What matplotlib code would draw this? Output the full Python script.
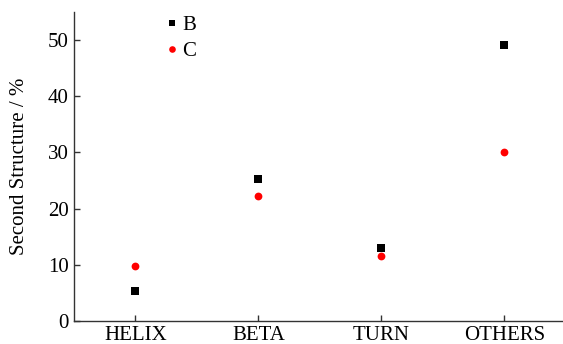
import matplotlib
matplotlib.use('Agg')
import matplotlib.pyplot as plt

categories = ['HELIX', 'BETA', 'TURN', 'OTHERS']
b_values = [5.3, 25.2, 12.9, 49.1]
c_values = [9.7, 22.3, 11.5, 30.0]

plt.rcParams['font.family'] = ['Liberation Serif', 'DejaVu Serif']

fig = plt.figure(figsize=(5.63, 3.44), dpi=100)
ax = fig.add_axes([0.1314, 0.067, 0.869, 0.898])

x = range(len(categories))
ax.plot(x, b_values, 's', color='black', markersize=5.2, markeredgewidth=0, label='B')
ax.plot(x, c_values, 'o', color='red', markersize=5.6, markeredgewidth=0, label='C')

ax.set_xlim(-0.5, 3.48)
ax.set_ylim(0, 55)
ax.set_xticks(list(x))
ax.set_xticklabels(categories)
ax.set_yticks([0, 10, 20, 30, 40, 50])
ax.set_ylabel('Second Structure / %', fontsize=15, labelpad=13)
ax.tick_params(labelsize=15, direction='in', length=4.5, width=1, colors='#333333',
               labelcolor='black', pad=4)
ax.tick_params(axis='x', pad=3.5)

for s in ['top', 'right']:
    ax.spines[s].set_visible(False)
for s in ['left', 'bottom']:
    ax.spines[s].set_color('#333333')
    ax.spines[s].set_linewidth(1)

leg = ax.legend(loc='upper left', bbox_to_anchor=(0.19, 0.988), frameon=False, fontsize=15,
                handlelength=0.5, handletextpad=0.25, labelspacing=0.3, borderpad=0,
                borderaxespad=0, markerscale=0.85)

fig.savefig('out.png', dpi=100)
